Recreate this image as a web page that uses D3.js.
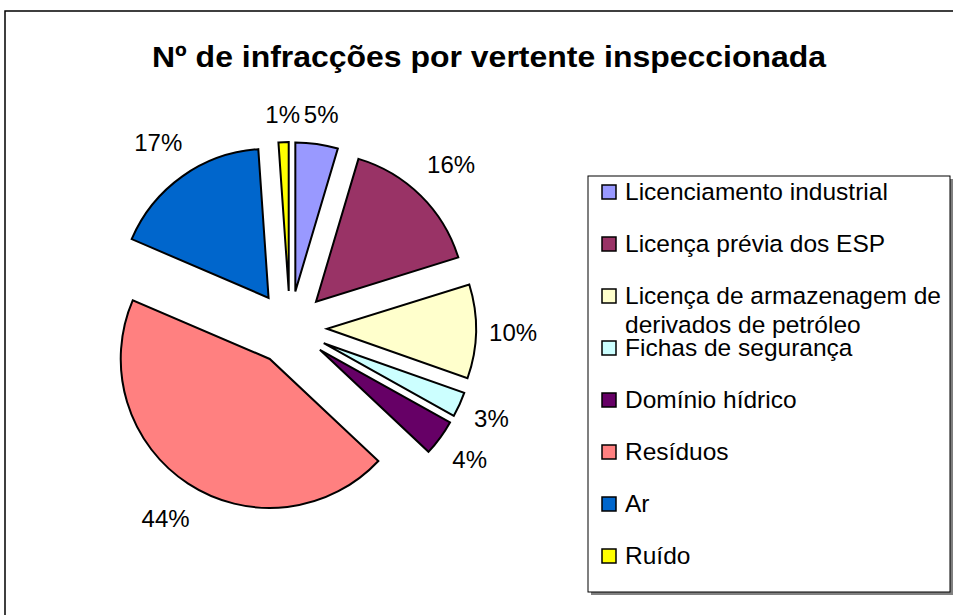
<!DOCTYPE html>
<html>
<head>
<meta charset="utf-8">
<script src="https://cdn.jsdelivr.net/npm/d3@7"></script>
<style>
  html, body { margin: 0; padding: 0; background: #fff; }
  svg { display: block; font-family: "Liberation Sans", Arial, sans-serif; }
</style>
</head>
<body>
<svg id="chart" width="953" height="615"></svg>
<script>
// ---- data ----
const title = "Nº de infracções por vertente inspeccionada";
const categories = [
  "Licenciamento industrial",
  "Licença prévia dos ESP",
  "Licença de armazenagem de derivados de petróleo",
  "Fichas de segurança",
  "Domínio hídrico",
  "Resíduos",
  "Ar",
  "Ruído"
];
const legendLines = [
  ["Licenciamento industrial"],
  ["Licença prévia dos ESP"],
  ["Licença de armazenagem de", "derivados de petróleo"],
  ["Fichas de segurança"],
  ["Domínio hídrico"],
  ["Resíduos"],
  ["Ar"],
  ["Ruído"]
];
// share of infractions (%); labels round them
const values = [4.6, 15.6, 10.2, 2.7, 3.9, 44.45, 17.45, 1.1];
const colors = ["#9999FF", "#993366", "#FFFFCC", "#CCFFFF", "#660066", "#FF8080", "#0066CC", "#FFFF00"];

// ---- layout ----
const svg = d3.select("#chart");
const cx = 290, cy = 328, radius = 149, explode = 37;

// outer chart border
svg.append("rect")
  .attr("x", 5).attr("y", 11).attr("width", 1000).attr("height", 700)
  .attr("fill", "#fff").attr("stroke", "#000").attr("stroke-width", 1.5);

// title
svg.append("text")
  .attr("x", 489).attr("y", 67)
  .attr("text-anchor", "middle")
  .attr("font-size", 30).attr("font-weight", "bold")
  .attr("textLength", 674).attr("lengthAdjust", "spacingAndGlyphs")
  .text(title);

const total = d3.sum(values);
const data = categories.map((c, i) => ({ name: c, value: values[i], color: colors[i] }));
const pie = d3.pie().sort(null).value(d => d.value).startAngle(0).endAngle(2 * Math.PI);
const arc = d3.arc().innerRadius(0).outerRadius(radius);
const arcs = pie(data);

const g = svg.append("g").attr("transform", `translate(${cx},${cy})`);
g.selectAll("path.slice")
  .data(arcs)
  .join("path")
  .attr("class", "slice")
  .attr("d", arc)
  .attr("fill", d => d.data.color)
  .attr("stroke", "#000")
  .attr("stroke-width", 2)
  .attr("stroke-linejoin", "miter")
  .attr("transform", d => {
    const m = (d.startAngle + d.endAngle) / 2;
    return `translate(${explode * Math.sin(m)},${-explode * Math.cos(m)})`;
  });

// percentage labels
const R0 = 190;
g.selectAll("text.lbl")
  .data(arcs)
  .join("text")
  .attr("class", "lbl")
  .attr("font-size", 24)
  .attr("fill", "#000")
  .attr("text-anchor", "middle")
  .attr("dominant-baseline", "central")
  .text(d => Math.round(d.data.value / total * 100) + "%")
  .each(function(d) {
    const m = (d.startAngle + d.endAngle) / 2;
    const w = this.getComputedTextLength();
    const s = Math.sin(m), c = -Math.cos(m);
    const dist = R0 + 0.68 * w * Math.abs(s) + 23 * Math.abs(c);
    d3.select(this).attr("x", s * dist).attr("y", c * dist);
  });

// legend
const lx = 588, ly = 176, lw = 362, lh = 416;
svg.append("rect")
  .attr("x", lx + 3).attr("y", ly + 3).attr("width", lw).attr("height", lh)
  .attr("fill", "#808080");
svg.append("rect")
  .attr("x", lx).attr("y", ly).attr("width", lw).attr("height", lh)
  .attr("fill", "#fff").attr("stroke", "#000").attr("stroke-width", 1);

const legendY = d3.scalePoint().domain(categories).range([192, 556]);
const item = svg.selectAll("g.leg")
  .data(data)
  .join("g")
  .attr("class", "leg")
  .attr("transform", d => `translate(0,${legendY(d.name)})`);
item.append("rect")
  .attr("x", 602).attr("y", -7).attr("width", 14).attr("height", 14)
  .attr("fill", d => d.color).attr("stroke", "#000").attr("stroke-width", 1.5);
item.each(function(d, i) {
  const t = d3.select(this).append("text")
    .attr("x", 625).attr("font-size", 24.5).attr("fill", "#000");
  legendLines[i].forEach((line, j) => {
    t.append("tspan").attr("x", 625).attr("y", 8 + j * 29).text(line);
  });
});
</script>
</body>
</html>
